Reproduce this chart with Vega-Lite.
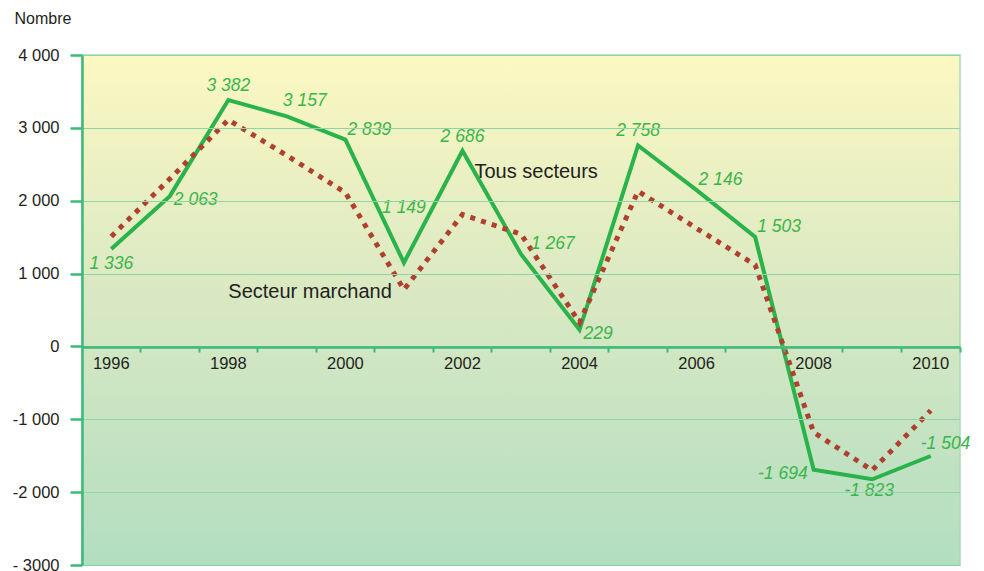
{
  "$schema": "https://vega.github.io/schema/vega-lite/v6.json",
  "width": 878,
  "height": 510,
  "autosize": {"type": "none"},
  "padding": {"left": 82, "top": 55, "right": 24, "bottom": 6},
  "background": "white",
  "config": {
    "locale": {"number": {"decimal": ",", "thousands": " ", "grouping": [3], "currency": ["", " €"], "minus": "-"}},
    "view": {"stroke": null},
    "font": "Liberation Sans",
    "axis": {"labelFont": "Liberation Sans", "labelFontSize": 16.5, "labelColor": "#231f20", "titleFont": "Liberation Sans"}
  },
  "data": {
    "values": [
      {"year": 1996, "series": "Tous secteurs", "value": 1336},
      {"year": 1997, "series": "Tous secteurs", "value": 2063},
      {"year": 1998, "series": "Tous secteurs", "value": 3382},
      {"year": 1999, "series": "Tous secteurs", "value": 3157},
      {"year": 2000, "series": "Tous secteurs", "value": 2839},
      {"year": 2001, "series": "Tous secteurs", "value": 1149},
      {"year": 2002, "series": "Tous secteurs", "value": 2686},
      {"year": 2003, "series": "Tous secteurs", "value": 1267},
      {"year": 2004, "series": "Tous secteurs", "value": 229},
      {"year": 2005, "series": "Tous secteurs", "value": 2758},
      {"year": 2006, "series": "Tous secteurs", "value": 2146},
      {"year": 2007, "series": "Tous secteurs", "value": 1503},
      {"year": 2008, "series": "Tous secteurs", "value": -1694},
      {"year": 2009, "series": "Tous secteurs", "value": -1823},
      {"year": 2010, "series": "Tous secteurs", "value": -1504},
      {"year": 1996, "series": "Secteur marchand", "value": 1510},
      {"year": 1997, "series": "Secteur marchand", "value": 2300},
      {"year": 1998, "series": "Secteur marchand", "value": 3110},
      {"year": 1999, "series": "Secteur marchand", "value": 2620},
      {"year": 2000, "series": "Secteur marchand", "value": 2110},
      {"year": 2001, "series": "Secteur marchand", "value": 780},
      {"year": 2002, "series": "Secteur marchand", "value": 1810},
      {"year": 2003, "series": "Secteur marchand", "value": 1540},
      {"year": 2004, "series": "Secteur marchand", "value": 330},
      {"year": 2005, "series": "Secteur marchand", "value": 2130},
      {"year": 2006, "series": "Secteur marchand", "value": 1620},
      {"year": 2007, "series": "Secteur marchand", "value": 1120},
      {"year": 2008, "series": "Secteur marchand", "value": -1180},
      {"year": 2009, "series": "Secteur marchand", "value": -1700},
      {"year": 2010, "series": "Secteur marchand", "value": -880}
    ]
  },
  "layer": [
    {
      "data": {"values": [{}]},
      "mark": {
        "type": "rect", "stroke": "#a6dbb6", "strokeWidth": 1.5,
        "fill": {"gradient": "linear", "x1": 0, "y1": 0, "x2": 0, "y2": 1,
          "stops": [{"offset": 0, "color": "#fcf8c2"}, {"offset": 0.45, "color": "#dbe9c3"}, {"offset": 1, "color": "#b2dec1"}]}
      },
      "encoding": {"y": {"datum": 4000, "type": "quantitative"}, "y2": {"datum": -3000}}
    },
    {
      "encoding": {
        "x": {
          "field": "year", "type": "ordinal",
          "scale": {"type": "band", "paddingInner": 0, "paddingOuter": 0},
          "axis": {
            "title": null, "orient": "bottom", "offset": -218, "labelAngle": 0,
            "labelExpr": "datum.value % 2 == 0 ? datum.label : ''",
            "bandPosition": 1, "tickSize": 5, "tickWidth": 2, "tickColor": "#3dba78",
            "domainColor": "#3dba78", "domainWidth": 2.5, "labelPadding": 3,
            "grid": false, "zindex": 1
          }
        },
        "y": {
          "field": "value", "type": "quantitative",
          "scale": {"domain": [-3000, 4000], "nice": false, "zero": false},
          "axis": {
            "values": [-3000, -2000, -1000, 0, 1000, 2000, 3000, 4000],
            "format": ",d",
            "labelExpr": "datum.value == -3000 ? '- 3000' : datum.label",
            "grid": true, "gridColor": "#8fd4a6", "gridWidth": 1.2,
            "domainColor": "#3dba78", "domainWidth": 2.5,
            "tickColor": "#3dba78", "tickWidth": 2.5, "tickSize": 12, "labelPadding": 11,
            "title": "Nombre", "titleAngle": 0, "titleAlign": "left", "titleBaseline": "middle",
            "titleX": -68, "titleY": -37, "titleFontSize": 16, "titleFontWeight": "normal", "titleColor": "#231f20",
            "zindex": 1
          }
        }
      },
      "layer": [
        {
          "transform": [{"filter": "datum.series == 'Tous secteurs'"}],
          "mark": {"type": "line", "color": "#2bb34b", "strokeWidth": 4, "strokeJoin": "miter"}
        },
        {
          "transform": [{"filter": "datum.series == 'Secteur marchand'"}],
          "mark": {"type": "line", "color": "#b0402e", "strokeWidth": 5, "strokeDash": [5, 6.3], "strokeCap": "butt"}
        },
        {
          "transform": [{"filter": "datum.series == 'Tous secteurs' && indexof([1998, 2002, 2005], datum.year) >= 0"}],
          "mark": {"type": "text", "font": "Liberation Sans", "fontStyle": "italic", "fontSize": 17.5, "color": "#3ab54a", "align": "center", "baseline": "middle", "dy": -14},
          "encoding": {"text": {"field": "value", "format": ",d"}}
        },
        {
          "transform": [{"filter": "datum.series == 'Tous secteurs' && datum.year == 1996"}],
          "mark": {"type": "text", "font": "Liberation Sans", "fontStyle": "italic", "fontSize": 17.5, "color": "#3ab54a", "align": "center", "baseline": "middle", "dy": 15},
          "encoding": {"text": {"field": "value", "format": ",d"}}
        },
        {
          "transform": [{"filter": "datum.series == 'Tous secteurs' && datum.year == 2009"}],
          "mark": {"type": "text", "font": "Liberation Sans", "fontStyle": "italic", "fontSize": 17.5, "color": "#3ab54a", "align": "center", "baseline": "middle", "dx": -3, "dy": 12},
          "encoding": {"text": {"field": "value", "format": ",d"}}
        },
        {
          "transform": [{"filter": "datum.series == 'Tous secteurs' && indexof([1997, 2004], datum.year) >= 0"}],
          "mark": {"type": "text", "font": "Liberation Sans", "fontStyle": "italic", "fontSize": 17.5, "color": "#3ab54a", "align": "left", "baseline": "middle", "dx": 4, "dy": 4},
          "encoding": {"text": {"field": "value", "format": ",d"}}
        },
        {
          "transform": [{"filter": "datum.series == 'Tous secteurs' && indexof([2000, 2006, 2007], datum.year) >= 0"}],
          "mark": {"type": "text", "font": "Liberation Sans", "fontStyle": "italic", "fontSize": 17.5, "color": "#3ab54a", "align": "left", "baseline": "middle", "dx": 2, "dy": -10},
          "encoding": {"text": {"field": "value", "format": ",d"}}
        },
        {
          "transform": [{"filter": "datum.series == 'Tous secteurs' && datum.year == 1999"}],
          "mark": {"type": "text", "font": "Liberation Sans", "fontStyle": "italic", "fontSize": 17.5, "color": "#3ab54a", "align": "left", "baseline": "middle", "dx": -4, "dy": -15},
          "encoding": {"text": {"field": "value", "format": ",d"}}
        },
        {
          "transform": [{"filter": "datum.series == 'Tous secteurs' && datum.year == 2003"}],
          "mark": {"type": "text", "font": "Liberation Sans", "fontStyle": "italic", "fontSize": 17.5, "color": "#3ab54a", "align": "left", "baseline": "middle", "dx": 10, "dy": -10},
          "encoding": {"text": {"field": "value", "format": ",d"}}
        },
        {
          "transform": [{"filter": "datum.series == 'Tous secteurs' && datum.year == 2008"}],
          "mark": {"type": "text", "font": "Liberation Sans", "fontStyle": "italic", "fontSize": 17.5, "color": "#3ab54a", "align": "right", "baseline": "middle", "dx": -6, "dy": 4},
          "encoding": {"text": {"field": "value", "format": ",d"}}
        },
        {
          "transform": [{"filter": "datum.series == 'Tous secteurs' && datum.year == 2001"}],
          "mark": {"type": "text", "font": "Liberation Sans", "fontStyle": "italic", "fontSize": 17.5, "color": "#3ab54a", "align": "center", "baseline": "middle", "dy": -55},
          "encoding": {"text": {"field": "value", "format": ",d"}}
        },
        {
          "transform": [{"filter": "datum.series == 'Tous secteurs' && datum.year == 2010"}],
          "mark": {"type": "text", "font": "Liberation Sans", "fontStyle": "italic", "fontSize": 17.5, "color": "#3ab54a", "align": "left", "baseline": "middle", "dx": -10, "dy": -12},
          "encoding": {"text": {"field": "value", "format": ",d"}}
        }
      ]
    },
    {
      "data": {"values": [{"label": "Tous secteurs"}]},
      "mark": {"type": "text", "font": "Liberation Sans", "fontSize": 20, "color": "#231f20", "align": "left", "baseline": "middle", "dx": 12},
      "encoding": {"x": {"datum": 2002, "type": "ordinal"}, "y": {"datum": 2390, "type": "quantitative"}, "text": {"field": "label"}}
    },
    {
      "data": {"values": [{"label": "Secteur marchand"}]},
      "mark": {"type": "text", "font": "Liberation Sans", "fontSize": 20, "color": "#231f20", "align": "left", "baseline": "middle", "dx": 0},
      "encoding": {"x": {"datum": 1998, "type": "ordinal"}, "y": {"datum": 741, "type": "quantitative"}, "text": {"field": "label"}}
    }
  ]
}
